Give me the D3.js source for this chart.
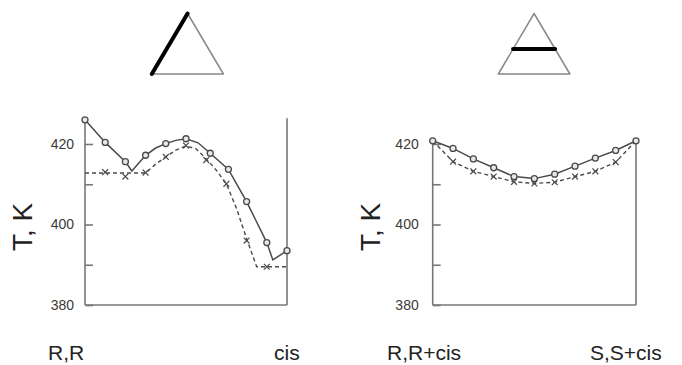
<!DOCTYPE html>
<html>
<head>
<meta charset="utf-8">
<script src="https://cdn.jsdelivr.net/npm/d3@7"></script>
<style>
  html, body { margin: 0; padding: 0; background: #fff; }
  svg { display: block; }
</style>
</head>
<body>
<div id="chart"></div>
<script>
// y ticks shared by both panels
const yTicks = [380, 390, 400, 410, 420];
const yLabelled = [380, 400, 420];
const yTitle = "T, K";

// left panel: R,R -> cis
const endLabels1 = ["R,R", "cis"];
const circleX1 = [0, 0.1, 0.2, 0.3, 0.4, 0.5, 0.62, 0.71, 0.8, 0.9, 1.0];
const circleT1 = [426.0, 420.4, 415.6, 417.2, 420.1, 421.3, 417.7, 413.7, 405.7, 395.5, 393.5];
const solidX1 = [0, 0.1, 0.2, 0.232, 0.3, 0.35, 0.4, 0.45, 0.5, 0.56, 0.62, 0.71, 0.8, 0.9, 0.93, 1.0];
const solidT1 = [426.0, 420.4, 415.6, 413.3, 417.2, 419.0, 420.1, 420.9, 421.3, 420.3, 417.7, 413.7, 405.7, 395.5, 391.2, 393.5];
const crossX1 = [0.1, 0.2, 0.3, 0.4, 0.5, 0.6, 0.7, 0.8, 0.9];
const crossT1 = [413.0, 411.9, 412.9, 416.8, 419.6, 416.0, 410.1, 396.0, 389.5];
const dashX1 = [0, 0.3, 0.35, 0.4, 0.45, 0.5, 0.55, 0.6, 0.65, 0.7, 0.75, 0.8, 0.85, 1.0];
const dashT1 = [412.8, 412.8, 415.0, 416.8, 418.5, 419.5, 418.8, 416.3, 413.5, 410.1, 404.0, 396.5, 389.5, 389.5];
const frameTop1 = 426.4;

// right panel: R,R+cis -> S,S+cis
const endLabels2 = ["R,R+cis", "S,S+cis"];
const circleX2 = [0, 0.1, 0.2, 0.3, 0.4, 0.5, 0.6, 0.7, 0.8, 0.9, 1.0];
const circleT2 = [420.8, 418.9, 416.3, 414.1, 411.9, 411.4, 412.5, 414.5, 416.5, 418.4, 420.8];
const crossX2 = [0.1, 0.2, 0.3, 0.4, 0.5, 0.6, 0.7, 0.8, 0.9];
const crossT2 = [415.6, 413.2, 411.9, 410.6, 410.2, 410.5, 411.9, 413.2, 415.5];
const dashX2 = [0, 0.1, 0.2, 0.3, 0.4, 0.5, 0.6, 0.7, 0.8, 0.9, 1.0];
const dashT2 = [420.8, 415.6, 413.2, 411.9, 410.6, 410.2, 410.5, 411.9, 413.2, 415.5, 420.8];
const frameTop2 = 420.8;

// triangle icons (unit coords), thick edge given as two points
const triangle = [[0.5, 0], [0, 1], [1, 1]];
const thickEdge1 = [[0, 1], [0.5, 0]];
const thickEdge2 = [[0.206, 0.588], [0.794, 0.588]];

const W = 682, H = 365;
const lineColor = "#4a4a4a";
const axisColor = "#777";

const svg = d3.select("#chart").append("svg")
  .attr("width", W)
  .attr("height", H)
  .style("font-family", "Arial, 'Liberation Sans', sans-serif");

const y = d3.scaleLinear().domain([380, 420]).range([305, 144]);

function drawPanel(p) {
  const x = d3.scaleLinear().domain([0, 1]).range([p.x0, p.x1]);
  const g = svg.append("g");

  // frame: left, right, bottom
  [0, 1].forEach(v => {
    g.append("line")
      .attr("x1", x(v)).attr("x2", x(v))
      .attr("y1", y(380)).attr("y2", y(p.top))
      .attr("stroke", axisColor).attr("stroke-width", 1.6);
  });
  g.append("line")
    .attr("x1", x(0)).attr("x2", x(1))
    .attr("y1", y(380)).attr("y2", y(380))
    .attr("stroke", axisColor).attr("stroke-width", 1.6);

  const axis = g.append("g")
    .attr("transform", `translate(${x(0)},0)`)
    .call(d3.axisLeft(y)
      .tickValues(yTicks)
      .tickSizeInner(-8)
      .tickSizeOuter(0)
      .tickPadding(p.pad)
      .tickFormat(d => yLabelled.includes(d) ? d : ""));
  axis.select(".domain").remove();
  axis.selectAll(".tick line").attr("stroke", axisColor).attr("stroke-width", 1.6);
  axis.selectAll(".tick text")
    .attr("fill", "#3a3a3a")
    .style("font-size", "14px")
    .style("font-family", "Arial, 'Liberation Sans', sans-serif");

  // y title
  g.append("text")
    .attr("transform", `translate(${p.titleX},227) rotate(-90)`)
    .attr("text-anchor", "middle")
    .attr("fill", "#222")
    .style("font-size", "28px")
    .text(yTitle);

  const line = d3.line().x(d => x(d[0])).y(d => y(d[1]));

  g.append("path")
    .datum(p.dashX.map((v, i) => [v, p.dashT[i]]))
    .attr("d", line)
    .attr("fill", "none")
    .attr("stroke", lineColor)
    .attr("stroke-width", 1.4)
    .attr("stroke-dasharray", "4,3");

  g.append("path")
    .datum(p.solidX.map((v, i) => [v, p.solidT[i]]))
    .attr("d", line)
    .attr("fill", "none")
    .attr("stroke", lineColor)
    .attr("stroke-width", 1.5);

  g.selectAll(".cross")
    .data(p.crossX.map((v, i) => [v, p.crossT[i]]))
    .join("path")
    .attr("class", "cross")
    .attr("transform", d => `translate(${x(d[0])},${y(d[1])})`)
    .attr("d", d3.symbol(d3.symbolX, 24))
    .attr("fill", "none")
    .attr("stroke", lineColor)
    .attr("stroke-width", 1.2);

  g.selectAll(".circ")
    .data(p.circleX.map((v, i) => [v, p.circleT[i]]))
    .join("circle")
    .attr("class", "circ")
    .attr("cx", d => x(d[0]))
    .attr("cy", d => y(d[1]))
    .attr("r", 3)
    .attr("fill", "#e8e8e8")
    .attr("stroke", lineColor)
    .attr("stroke-width", 1.3);

  // end labels
  g.selectAll(".endlab")
    .data(p.labels)
    .join("text")
    .attr("class", "endlab")
    .attr("x", (d, i) => p.labelX[i])
    .attr("y", 360)
    .attr("fill", "#222")
    .style("font-size", "21px")
    .text(d => d);

  // triangle icon
  const tx = d3.scaleLinear().domain([0, 1]).range([p.triX0, p.triX0 + 71.6]);
  const ty = d3.scaleLinear().domain([0, 1]).range([13.5, 74]);
  g.append("path")
    .attr("d", d3.line().x(d => tx(d[0])).y(d => ty(d[1]))(triangle) + "Z")
    .attr("fill", "none")
    .attr("stroke", "#888")
    .attr("stroke-width", 1.5)
    .attr("stroke-linejoin", "round");
  g.append("path")
    .attr("d", d3.line().x(d => tx(d[0])).y(d => ty(d[1]))(p.thick))
    .attr("fill", "none")
    .attr("stroke", "#000")
    .attr("stroke-width", 4)
    .attr("stroke-linecap", "round");
}

drawPanel({
  x0: 85, x1: 287, top: frameTop1, pad: 11, titleX: 32,
  solidX: solidX1, solidT: solidT1, circleX: circleX1, circleT: circleT1,
  crossX: crossX1, crossT: crossT1, dashX: dashX1, dashT: dashT1,
  labels: endLabels1, labelX: [48, 274], triX0: 151.8, thick: thickEdge1
});

drawPanel({
  x0: 432.7, x1: 636, top: frameTop2, pad: 14, titleX: 380,
  solidX: circleX2, solidT: circleT2, circleX: circleX2, circleT: circleT2,
  crossX: crossX2, crossT: crossT2, dashX: dashX2, dashT: dashT2,
  labels: endLabels2, labelX: [387, 590], triX0: 498.3, thick: thickEdge2
});
</script>
</body>
</html>
